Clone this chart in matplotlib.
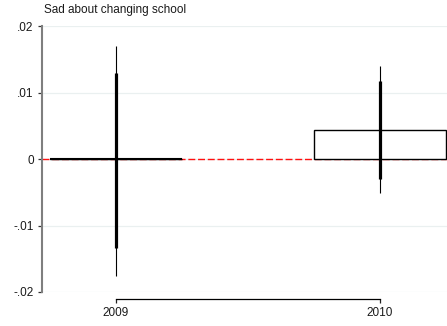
import matplotlib
matplotlib.use("Agg")
import matplotlib.pyplot as plt

plt.rcParams['font.family'] = ['Liberation Sans', 'DejaVu Sans']

# estimates with 90% (thick) and 95% (thin) confidence intervals
years = [2009, 2010]
coef = [0.0, 0.00432]
ci90_lo = [-0.01334, -0.00305]
ci90_hi = [0.01289, 0.01173]
ci95_lo = [-0.01755, -0.00516]
ci95_hi = [0.01704, 0.01403]
yticks = [-0.02, -0.01, 0, 0.01, 0.02]
ytick_labels = ['-.02', '-.01', '0', '.01', '.02']

fig = plt.figure(figsize=(4.47, 3.26), dpi=100)
ax = fig.add_axes([42 / 447, 34 / 326, 405 / 447, 266 / 326])

ax.set_xlim(2008.721, 2010.2535)
ax.set_ylim(-0.02, 0.02)

# light horizontal grid
for y in yticks:
    ax.axhline(y, color='#eaf0f0', lw=0.9, zorder=0)

# zero reference line
ax.axhline(0, color='#ff1010', lw=1.0, ls=(0, (5, 2)), zorder=1)

ax.bar(years, coef, width=0.5, color='white', edgecolor='black',
       linewidth=1.0, zorder=2)
# a zero-height bar collapses to a flat outline, draw it solid
for x, c in zip(years, coef):
    if c == 0:
        ax.hlines(c, x - 0.25, x + 0.25, color='black', lw=1.5, zorder=2)

ax.vlines(years, ci95_lo, ci95_hi, color='black', lw=0.8, zorder=3)
ax.vlines(years, ci90_lo, ci90_hi, color='black', lw=2.3, zorder=4)

ax.set_yticks(yticks)
ax.set_yticklabels(ytick_labels)
ax.set_xticks(years)
ax.set_xticklabels([str(y) for y in years])

for s in ['top', 'right']:
    ax.spines[s].set_visible(False)
ax.spines['left'].set_color('#7f7f7f')
ax.spines['left'].set_linewidth(1.5)
ax.spines['bottom'].set_position(('outward', 5))
ax.spines['bottom'].set_bounds(2009, 2010)
ax.spines['bottom'].set_linewidth(0.9)

ax.tick_params(axis='y', length=3, width=0.9, color='#333333', pad=3,
               labelsize=8.5, labelcolor='#1a1a1a')
ax.tick_params(axis='x', length=3, width=0.9, color='#222222', pad=2.5,
               labelsize=8.5, labelcolor='#1a1a1a')

fig.text(44 / 447, 1 - 10.5 / 326, 'Sad about changing school',
         fontsize=8.5, color='#1a1a1a', ha='left', va='center')

fig.savefig('out.png', dpi=100)
